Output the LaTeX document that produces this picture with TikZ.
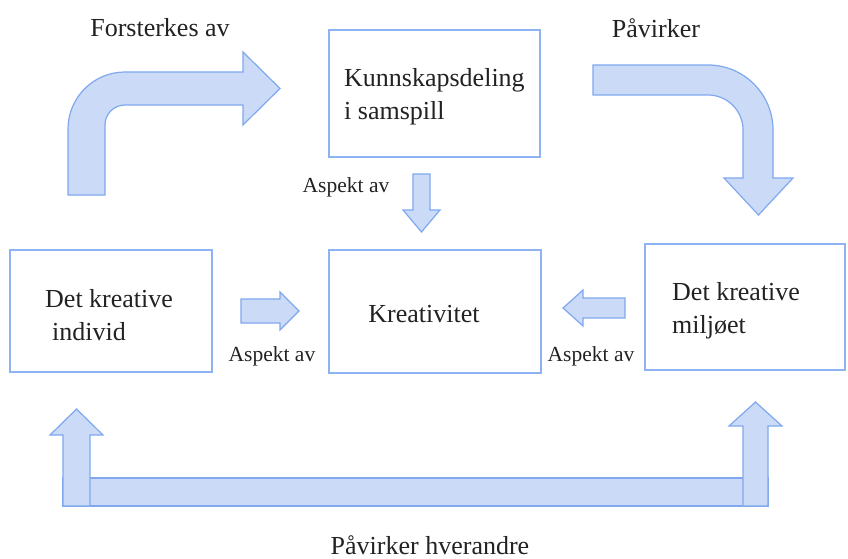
\documentclass[tikz,border=0pt]{standalone}
\usepackage{fontspec}
\setmainfont{Liberation Serif}
\definecolor{arrfill}{HTML}{CADAF7}
\definecolor{arrdraw}{HTML}{7FA8EE}
\definecolor{boxdraw}{HTML}{8DB3F2}
\definecolor{txt}{HTML}{222222}
\tikzset{
  fatarrow/.style={fill=arrfill,draw=arrdraw,line width=1.2pt,line join=miter},
  conceptbox/.style={draw=boxdraw,line width=1.3pt,inner sep=0pt},
  bigtext/.style={font=\fontsize{26}{33}\selectfont,text=txt,inner sep=0pt,align=left},
  smalltext/.style={font=\fontsize{21.5}{25}\selectfont,text=txt,inner sep=0pt},
}
\begin{document}
\begin{tikzpicture}[x=1pt,y=-1pt]
\useasboundingbox (0,0) rectangle (848,559);
% boxes
\node[conceptbox,minimum width=211pt,minimum height=127pt] (kunn) at (434.5,93.5) {};
\node[conceptbox,minimum width=212pt,minimum height=123pt] (krea) at (435,311.5) {};
\node[conceptbox,minimum width=202pt,minimum height=122pt] (indiv) at (111,311) {};
\node[conceptbox,minimum width=200pt,minimum height=126pt] (miljo) at (745,307) {};
% box texts
\node[bigtext,anchor=west] (tkunn) at (344,97) {Kunnskapsdeling\\i samspill};
\node[bigtext] (tkrea) at (424,314) {Kreativitet};
\node[bigtext,anchor=west] (tindiv) at (45,315) {Det kreative\\\hspace{7pt}individ};
\node[bigtext,anchor=west] (tmiljo) at (672,311) {Det kreative\\miljøet};
% labels
\node[bigtext] (lforst) at (160,28) {Forsterkes av};
\node[bigtext] (lpav) at (656,28) {Påvirker};
\node[bigtext] (lhver) at (430,545) {Påvirker hverandre};
\node[smalltext] (la1) at (346,187) {Aspekt av};
\node[smalltext] (la2) at (272,356) {Aspekt av};
\node[smalltext] (la3) at (591,356) {Aspekt av};
% top-left bent arrow
\draw[fatarrow] (68,195) -- (68,129) arc[start angle=180,end angle=270,radius=57]
  -- (243,72) -- (243,52) -- (280,88.5) -- (243,125) -- (243,105) -- (125,105)
  arc[start angle=270,end angle=180,radius=20] -- (105,195) -- cycle;
% top-right bent arrow
\draw[fatarrow] (593,65) -- (708,65) arc[start angle=270,end angle=360,radius=65]
  -- (773,178) -- (793,178) -- (758.5,215) -- (724,178) -- (743,178) -- (743,130)
  arc[start angle=0,end angle=-90,radius=35] -- (593,95) -- cycle;
% small arrows
\draw[fatarrow] (413,174) -- (430,174) -- (430,210) -- (440,210) -- (421.5,232) -- (403,210) -- (413,210) -- cycle;
\draw[fatarrow] (241,299) -- (280,299) -- (280,292) -- (299,311) -- (280,330) -- (280,323) -- (241,323) -- cycle;
\draw[fatarrow] (625,298) -- (583,298) -- (583,290) -- (563,308) -- (583,326) -- (583,318) -- (625,318) -- cycle;
% bottom arrow
\draw[fatarrow] (63,478) rectangle (768,506);
\draw[fatarrow] (63,506) -- (63,435) -- (50,435) -- (76.5,409) -- (103,435) -- (90,435) -- (90,506) -- cycle;
\draw[fatarrow] (743,506) -- (743,426) -- (729,426) -- (755.5,402) -- (782,426) -- (768,426) -- (768,506) -- cycle;
\end{tikzpicture}
\end{document}
